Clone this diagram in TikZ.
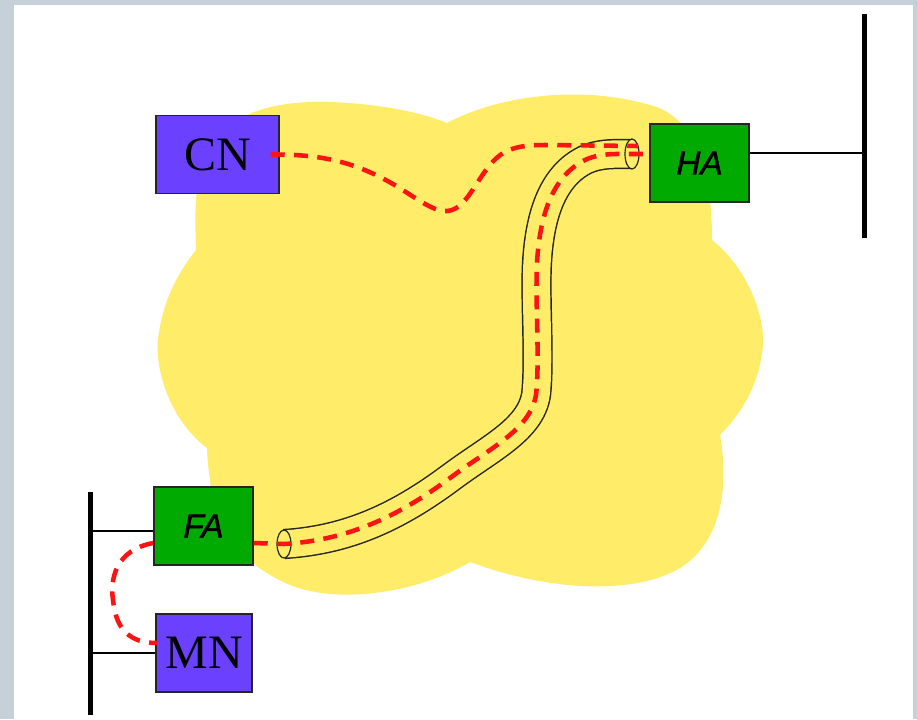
\documentclass[tikz,border=0pt]{standalone}
\usepackage{fontspec}
\newfontfamily\nodeserif{Liberation Serif}
\newfontfamily\nodesans{Liberation Sans}
\usetikzlibrary{calc}
\definecolor{framegrey}{RGB}{197,208,216}
\definecolor{cloudyellow}{RGB}{255,236,104}
\definecolor{hostviolet}{RGB}{108,64,255}
\definecolor{agentgreen}{RGB}{0,170,0}
\definecolor{pathred}{RGB}{250,20,20}

\tikzset{
  box/.style={draw=black!85, line width=1.1pt, inner sep=0pt},
  host/.style={box, fill=hostviolet, minimum height=58.5pt,
    font=\nodeserif\fontsize{36}{36}\selectfont},
  agent/.style={box, fill=agentgreen, minimum width=74.25pt, minimum height=58.5pt,
    font=\nodesans\itshape\addfontfeature{FakeBold=1.6}\fontsize{25}{25}\selectfont},
  bus/.style={line width=3.75pt},
  link/.style={line width=1.1pt},
  redpath/.style={draw=pathred, line width=3.4pt, dash pattern=on 10.5pt off 7pt},
  tube/.style={draw=black!85, line width=1.1pt, double=cloudyellow, double distance=20.5pt},
  tubeend/.style={draw=black!85, line width=0.9pt, fill=cloudyellow},
}

\begin{document}
\begin{tikzpicture}[x=0.75pt,y=-0.75pt]
  \useasboundingbox (0,0) rectangle (917,719);
  % page frame
  \fill[framegrey] (0,0) rectangle (917,719);
  \fill[white] (14,5) rectangle (913,719);

  % the internet cloud
  \fill[cloudyellow] (447,123)
    .. controls (500,95) and (580,85) .. (650,105)
    .. controls (690,115) and (712,160) .. (712,240)
    .. controls (750,270) and (765,320) .. (763,345)
    .. controls (760,380) and (745,410) .. (720,435)
    .. controls (728,480) and (725,540) .. (680,568)
    .. controls (640,592) and (560,595) .. (470,562)
    .. controls (420,592) and (340,605) .. (290,585)
    .. controls (255,570) and (215,540) .. (210,480)
    .. controls (208,465) and (207,455) .. (207,448)
    .. controls (170,420) and (155,370) .. (158,340)
    .. controls (162,300) and (180,270) .. (196,250)
    .. controls (195,220) and (195,200) .. (198,185)
    .. controls (205,120) and (260,100) .. (330,102)
    .. controls (380,104) and (420,112) .. (447,123) -- cycle;

  % hosts and agents
  \node[host, minimum width=92.25pt] (CN) at (217.5,154.5) {CN};
  \node[agent] (HA) at (699.5,163) {HA};
  \node[agent] (FA) at (203.5,526) {FA};
  \node[host, minimum width=72pt] (MN) at (204,653) {MN};

  % home network bus
  \coordinate (rbusTop) at (864.5,14);
  \coordinate (rbusBot) at (864.5,238);
  \coordinate (rtap) at (864.5,153);
  \draw[bus] (rbusTop) -- (rbusBot);
  \draw[link] (HA.east |- rtap) -- (rtap);

  % visited network bus
  \coordinate (lbusTop) at (90,492);
  \coordinate (lbusBot) at (90,715);
  \coordinate (ltapFA) at (90,531);
  \coordinate (ltapMN) at (90,653);
  \draw[bus] (lbusTop) -- (lbusBot);
  \draw[link] (ltapFA) -- (ltapFA -| FA.west);
  \draw[link] (ltapMN) -- (ltapMN -| MN.west);

  % tunnel between the agents
  \coordinate (tubeA) at (284,544);
  \coordinate (tubeB) at (632,154);
  \draw[tube] (tubeA)
    .. controls (350,540) and (400,515) .. (450,478)
    .. controls (490,448) and (530,430) .. (536,395)
    .. controls (540,360) and (535,300) .. (537,263)
    .. controls (540,210) and (555,175) .. (585,160)
    .. controls (600,153) and (615,154) .. (tubeB);
  \draw[tubeend] (tubeA) ellipse [x radius=7, y radius=14];
  \draw[tubeend] (tubeB) ellipse [x radius=7, y radius=15];

  % datagram path through the tunnel
  \coordinate (faOut) at ($(FA.east)+(0,17)$);
  \coordinate (haIn) at ($(HA.west)+(0,-9)$);
  \draw[redpath] (faOut) -- (tubeA)
    .. controls (350,540) and (400,515) .. (450,478)
    .. controls (490,448) and (530,430) .. (536,395)
    .. controls (540,360) and (535,300) .. (537,263)
    .. controls (540,210) and (555,175) .. (585,160)
    .. controls (600,153) and (615,154) .. (tubeB) -- (haIn);

  % correspondent to home agent
  \coordinate (cnOut) at ($(CN.east)+(-9,0)$);
  \coordinate (cnEnd) at (638,146);
  \draw[redpath] (cnOut)
    .. controls (320,154) and (350,162) .. (380,177)
    .. controls (410,192) and (430,212) .. (447,211)
    .. controls (470,210) and (480,165) .. (505,152)
    .. controls (515,147) and (525,145) .. (545,145) -- (cnEnd);

  % foreign agent to mobile node
  \coordinate (faLoop) at ($(FA.west)+(0,17)$);
  \coordinate (mnLoop) at ($(MN.west)+(2,-10)$);
  \draw[redpath] (faLoop)
    .. controls (115,550) and (110,580) .. (113,600)
    .. controls (116,630) and (130,643) .. (mnLoop);
\end{tikzpicture}
\end{document}
